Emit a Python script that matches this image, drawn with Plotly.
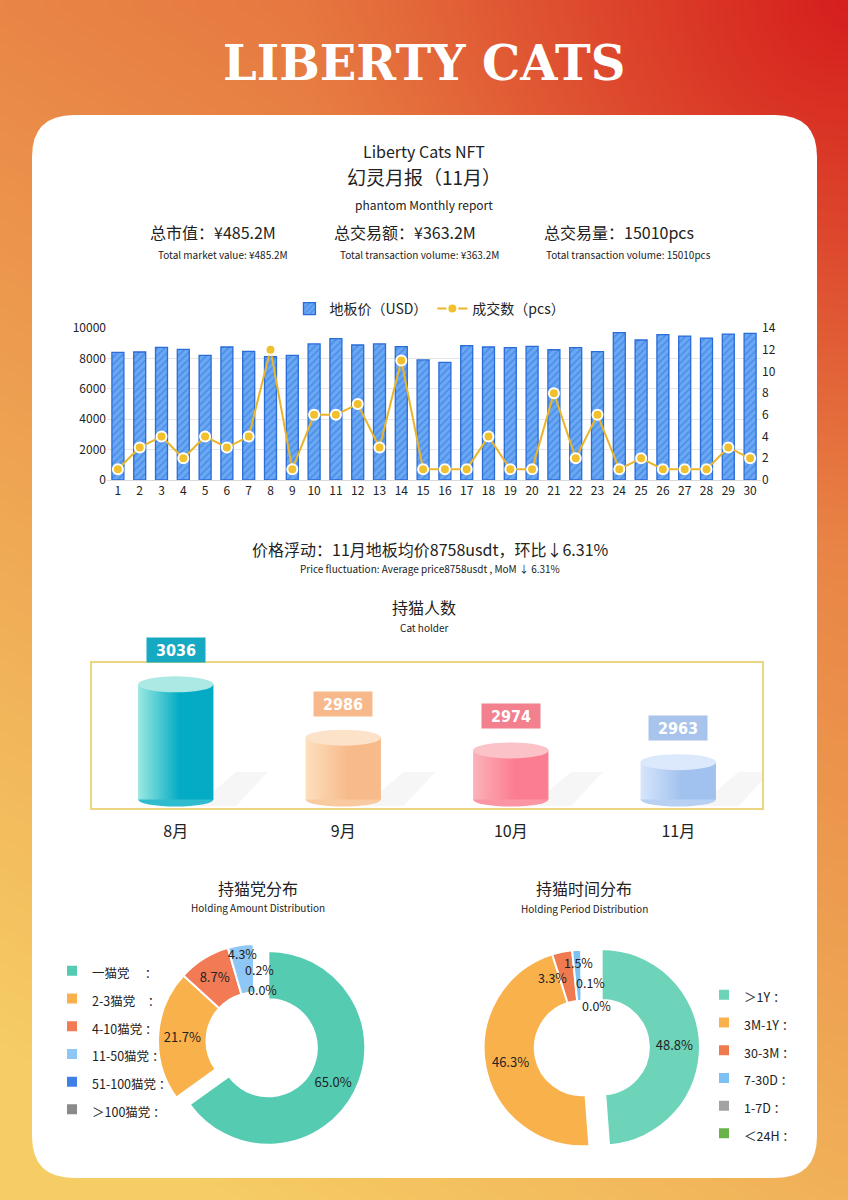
import base64, struct, zlib
import numpy as np
import plotly.graph_objects as go

W_PX, H_PX = 848, 1200

# ---------------- data ----------------
days = [str(d) for d in range(1, 31)]
floor_price = [8400, 8420, 8730, 8600, 8200, 8750, 8460, 8110, 8200, 8950,
               9300, 8880, 8950, 8770, 7900, 7740, 8840, 8750, 8710, 8790,
               8570, 8710, 8440, 9690, 9210, 9560, 9470, 9340, 9600, 9650]
deals = [1, 3, 4, 2, 4, 3, 4, 12, 1, 6, 6, 7, 3, 11, 1, 1, 1, 4, 1, 1,
         8, 2, 6, 1, 2, 1, 1, 1, 3, 2]
price_ticks = [0, 2000, 4000, 6000, 8000, 10000]
deal_ticks = [0, 2, 4, 6, 8, 10, 12, 14]

months = ["8月", "9月", "10月", "11月"]
holders = [3036, 2986, 2974, 2963]

amount_labels = ["一猫党　 ：", "2-3猫党　：", "4-10猫党 ：", "11-50猫党 ：", "51-100猫党 ：", "＞100猫党 ："]
amount_values = [65.0, 21.7, 8.7, 4.3, 0.2, 0.0]

period_labels = ["＞1Y ：", "3M-1Y ：", "30-3M ：", "7-30D ：", "1-7D ：", "＜24H ："]
period_values = [48.8, 46.3, 3.3, 1.5, 0.1, 0.0]

# ---------------- helpers ----------------
def px(x):
    return x / W_PX

def py(y):
    return 1 - y / H_PX

def png_uri(arr):
    h, w, _ = arr.shape
    raw = b"".join(b"\x00" + arr[r].tobytes() for r in range(h))
    def chunk(t, d):
        c = struct.pack(">I", len(d)) + t + d
        return c + struct.pack(">I", zlib.crc32(t + d) & 0xffffffff)
    png = (b"\x89PNG\r\n\x1a\n" + chunk(b"IHDR", struct.pack(">IIBBBBB", w, h, 8, 2, 0, 0, 0))
           + chunk(b"IDAT", zlib.compress(raw, 9)) + chunk(b"IEND", b""))
    return "data:image/png;base64," + base64.b64encode(png).decode()

# background gradient (yellow bottom-left -> red top-right)
gw, gh = 106, 150
xx, yy = np.meshgrid(np.linspace(0, 1, gw), np.linspace(0, 1, gh))
s = np.clip(yy * 0.75 + (1 - xx) * 0.35, 0, 1)[..., None]
c0 = np.array([226, 96, 54.0])
c1 = np.array([246, 204, 100.0])
base = c0 * (1 - s) + c1 * s
dist = np.sqrt(((1 - xx) * W_PX) ** 2 + (yy * H_PX) ** 2)
wr = (np.clip(1 - dist / 560, 0, 1) ** 1.3)[..., None]
red = np.array([214, 32, 30.0])
img = (base * (1 - wr) + red * wr).clip(0, 255).astype(np.uint8)
bg_uri = png_uri(img)

def rounded_rect(x0, y0, x1, y1, r):
    pts = [
        f"M {px(x0 + r)},{py(y0)}", f"L {px(x1 - r)},{py(y0)}",
        f"Q {px(x1)},{py(y0)} {px(x1)},{py(y0 + r)}", f"L {px(x1)},{py(y1 - r)}",
        f"Q {px(x1)},{py(y1)} {px(x1 - r)},{py(y1)}", f"L {px(x0 + r)},{py(y1)}",
        f"Q {px(x0)},{py(y1)} {px(x0)},{py(y1 - r)}", f"L {px(x0)},{py(y0 + r)}",
        f"Q {px(x0)},{py(y0)} {px(x0 + r)},{py(y0)}", "Z"]
    return " ".join(pts)

FONT = "Noto Sans CJK SC, Noto Sans, sans-serif"
TXT = "#222222"

fig = go.Figure()

# ---------------- bar + line chart ----------------
fig.add_trace(go.Bar(
    x=days, y=floor_price, name="地板价（USD）", width=0.55,
    marker=dict(color="#5d9ff0",
                pattern=dict(shape="/", fgcolor="#2c6fdb", bgcolor="#6aa8f3", size=5, solidity=0.3),
                line=dict(color="#2a6cd8", width=1.3)),
    xaxis="x", yaxis="y", legend="legend"))
fig.add_trace(go.Scatter(
    x=days, y=deals, name="成交数（pcs）", mode="lines+markers",
    line=dict(color="#e9b52a", width=2),
    marker=dict(size=10, color="#f1c12d", line=dict(color="white", width=2)),
    xaxis="x", yaxis="y2", legend="legend"))

# ---------------- cylinders ----------------
BASE = 2928
HW = 0.225
cyl_left = ["#9be9e1", "#fde0bd", "#fbb3b9", "#d6e6fc"]
cyl_right = ["#03abc5", "#f7bb8b", "#fb7d91", "#a1c1ee"]
cyl_cap = ["#ace9e4", "#fce2c9", "#fbc2c8", "#dce8fb"]
cyl_bot = ["#30bccf", "#f9c9a0", "#fb95a3", "#b8d1f3"]
box_col = ["#15a9c2", "#f7b98c", "#f3808f", "#a9c4ec"]

for i, (m, v) in enumerate(zip(months, holders)):
    fig.add_trace(go.Scatter(
        x=[i - HW, i + HW, i + HW, i - HW, i - HW], y=[BASE, BASE, v, v, BASE],
        mode="lines", line=dict(width=0), fill="toself",
        fillgradient=dict(type="horizontal",
                          colorscale=[[0, cyl_left[i]], [0.55, cyl_right[i]], [1, cyl_right[i]]]),
        hoverinfo="skip", showlegend=False, xaxis="x3", yaxis="y3"))

shapes = []
shapes.append(dict(type="path", path=rounded_rect(32, 115, 817, 1178, 42), xref="paper", yref="paper",
                   fillcolor="white", line=dict(width=0), layer="below"))

for i, v in enumerate(holders):
    shapes.append(dict(type="path", xref="x3", yref="paper",
                       path=(f"M {i + 0.12},{py(806)} L {i + 0.36},{py(806)} "
                             f"L {i + 0.55},{py(772)} L {i + 0.36},{py(772)} Z"),
                       fillcolor="rgba(130,130,130,0.07)", line=dict(width=0), layer="below"))
    shapes.append(dict(type="circle", xref="x3", yref="y3", x0=i - HW, x1=i + HW,
                       ysizemode="pixel", yanchor=BASE, y0=-7, y1=7,
                       fillcolor=cyl_bot[i], line=dict(width=0), layer="below"))
    shapes.append(dict(type="circle", xref="x3", yref="y3", x0=i - HW, x1=i + HW,
                       ysizemode="pixel", yanchor=v, y0=-8, y1=8,
                       fillcolor=cyl_cap[i], line=dict(width=0), layer="above"))

# ---------------- donuts ----------------
SMALL = 5.0  # slices below this get their label placed by annotation
def leg(labels):
    return [f'<span style="font-size:12.5px">{l}</span>' for l in labels]

def tmpl(values):
    return ["%{value:.1f}%" if v >= SMALL else "" for v in values]

fig.add_trace(go.Pie(
    labels=leg(amount_labels), values=amount_values, hole=0.5, sort=False, direction="clockwise",
    rotation=0, pull=[0.155, 0, 0, 0, 0, 0],
    marker=dict(colors=["#55cbb1", "#f9b14c", "#f27a55", "#8ec7f5", "#3f7fe6", "#8a8a8a"],
                line=dict(color="white", width=2)),
    texttemplate=tmpl(amount_values), textposition="inside", insidetextorientation="horizontal",
    textfont=dict(color="#222222", size=13, family=FONT),
    domain=dict(x=[px(143), px(367)], y=[py(1153), py(929)]),
    legend="legend2", showlegend=True))

fig.add_trace(go.Pie(
    labels=leg(period_labels), values=period_values, hole=0.48, sort=False, direction="clockwise",
    rotation=0, pull=[0.2, 0, 0, 0, 0, 0],
    marker=dict(colors=["#6dd3b9", "#f9b24b", "#f07a4f", "#7dc0f2", "#a3a3a3", "#6ab24a"],
                line=dict(color="white", width=2)),
    texttemplate=tmpl(period_values), textposition="inside", insidetextorientation="horizontal",
    textfont=dict(color="#222222", size=13, family=FONT),
    domain=dict(x=[px(464), px(700)], y=[py(1166), py(930)]),
    legend="legend3", showlegend=True))

# ---------------- annotations ----------------
ann = []
def text(x, y, t, size, color=TXT, xanchor="center", family=FONT, **kw):
    ann.append(dict(x=px(x), y=py(y), xref="paper", yref="paper", text=t, showarrow=False,
                    xanchor=xanchor, yanchor="middle", font=dict(size=size, color=color, family=family), **kw))

text(424, 63, "<b>LIBERTY CATS</b>", 48, color="white", family="DejaVu Serif, serif")
text(424, 151, "Liberty Cats NFT", 16)
text(424, 177, "幻灵月报（11月）", 19)
text(424, 204, "phantom Monthly report", 12)
text(148, 232, "总市值：¥485.2M", 16, xanchor="left")
text(156, 254, "Total market value: ¥485.2M", 10, xanchor="left")
text(332, 232, "总交易额：¥363.2M", 16, xanchor="left")
text(338, 254, "Total transaction volume: ¥363.2M", 10, xanchor="left")
text(542, 232, "总交易量：15010pcs", 16, xanchor="left")
text(544, 254, "Total transaction volume: 15010pcs", 10, xanchor="left")
text(430, 549, "价格浮动：11月地板均价8758usdt，环比↓6.31%", 16)
text(430, 568, "Price fluctuation: Average price8758usdt , MoM ↓ 6.31%", 10)
text(424, 607, "持猫人数", 16)
text(424, 627, "Cat holder", 10)
text(258, 888, "持猫党分布", 16)
text(258, 907, "Holding Amount Distribution", 10)
text(584, 888, "持猫时间分布", 16)
text(584, 908, "Holding Period Distribution", 10)

# labels for the thin slices, placed clear of each other like the reference
small_pos_amount = {3: (243, 953), 4: (259, 969), 5: (262, 989)}
small_pos_period = {2: (552, 978), 3: (578, 962), 4: (590, 982), 5: (596, 1005)}
for pos, vals in ((small_pos_amount, amount_values), (small_pos_period, period_values)):
    for k, (x, y) in pos.items():
        text(x, y, f"{vals[k]:.1f}%", 12.5)

for i, v in enumerate(holders):
    ann.append(dict(x=i, y=v, xref="x3", yref="y3", text=f"<b>{v}</b>", showarrow=False,
                    yshift=34, bgcolor=box_col[i], width=56, height=22,
                    font=dict(size=16, color="white", family="DejaVu Sans Condensed, DejaVu Sans, sans-serif")))

leg_font = dict(size=19, color=TXT, family=FONT)

fig.update_layout(
    width=W_PX, height=H_PX, margin=dict(l=0, r=0, t=0, b=0, autoexpand=False),
    paper_bgcolor="white", plot_bgcolor="rgba(0,0,0,0)",
    font=dict(family=FONT, color=TXT),
    images=[dict(source=bg_uri, xref="paper", yref="paper", x=0, y=1, sizex=1, sizey=1,
                 sizing="stretch", xanchor="left", yanchor="top", layer="below")],
    shapes=shapes, annotations=ann,
    xaxis=dict(domain=[px(107), px(761)], anchor="y", type="category", range=[-0.5, 29.5],
               tickfont=dict(size=12, color=TXT), showgrid=False, showline=True,
               linecolor="#d9d9d9", ticks="", automargin=False),
    yaxis=dict(domain=[py(480), py(328)], range=[0, 10000], tickvals=price_ticks, tickformat="d",
               tickfont=dict(size=12, color=TXT), gridcolor="#e6e6e6", zeroline=False, automargin=False),
    yaxis2=dict(overlaying="y", side="right", range=[0, 14], tickvals=deal_ticks,
                tickfont=dict(size=12, color=TXT), showgrid=False, zeroline=False, anchor="x",
                automargin=False),
    xaxis3=dict(domain=[px(92), px(762)], anchor="y3", range=[-0.5, 3.5],
                tickvals=[0, 1, 2, 3], ticktext=months, tickfont=dict(size=16, color=TXT),
                ticklabelstandoff=8, showgrid=False, zeroline=False, automargin=False,
                showline=True, mirror=True, linecolor="#ead680", linewidth=2, ticks=""),
    yaxis3=dict(domain=[py(808), py(663)], anchor="x3", range=[2920, 3056], showticklabels=False,
                showgrid=False, zeroline=False, showline=True, mirror=True, automargin=False,
                linecolor="#ead680", linewidth=2, ticks=""),
    legend=dict(orientation="h", x=0.507, xanchor="center", y=py(309), yanchor="middle",
                font=dict(size=14, color=TXT, family=FONT), bgcolor="rgba(0,0,0,0)"),
    legend2=dict(x=px(52), xanchor="left", y=py(952), yanchor="top", font=leg_font,
                 bgcolor="rgba(0,0,0,0)"),
    legend3=dict(x=px(704), xanchor="left", y=py(976), yanchor="top", font=leg_font,
                 bgcolor="rgba(0,0,0,0)"),
    uniformtext=dict(minsize=13, mode="show"),
)

fig.write_html("out.html")
